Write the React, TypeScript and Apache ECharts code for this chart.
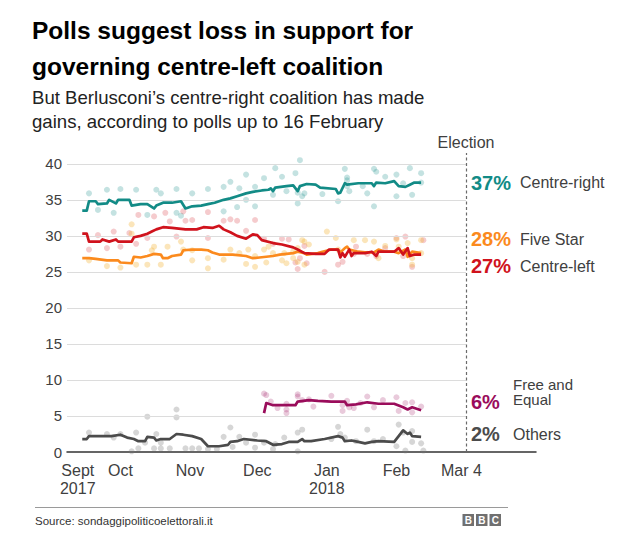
import { useEffect, useRef } from 'react';
import * as echarts from 'echarts';

const FONT = '"Liberation Sans", Arial, Helvetica, sans-serif';

// ---- axis / tick data ----
const gridValues = [5, 10, 15, 20, 25, 30, 35, 40];
const monthTickDays = [11, 30, 61, 91, 122, 153, 182];
const monthTickLabels = ['Sept\n2017', 'Oct', 'Nov', 'Dec', 'Jan\n2018', 'Feb', 'Mar 4'];
const electionDay = 184; // days since 1 Sept 2017
const firstDay = 6.2;
const lastDay = 215.2;

// ---- rolling averages (days since 1 Sept 2017) ----
const crDays = [13, 15, 16, 19, 20, 24, 25, 28, 29, 34, 35, 39, 42, 45, 46, 49, 53, 57, 59, 62, 66, 69, 72, 76, 79, 82, 86, 89, 93, 96, 97, 98, 99, 104, 107, 109, 110, 113, 117, 119, 126, 127, 128, 130, 131, 136, 142, 143, 144, 148, 152, 154, 157, 159, 161, 164];
const crValues = [33.5, 33.5, 34.8, 34.8, 34.4, 34.5, 35.0, 34.5, 35.0, 35.0, 34.2, 34.4, 34.4, 33.8, 34.2, 34.6, 34.6, 34.8, 33.8, 34.1, 34.2, 34.4, 34.6, 35.0, 35.2, 35.5, 35.9, 36.1, 36.3, 36.4, 36.6, 36.2, 36.7, 36.9, 37.0, 36.2, 36.9, 37.2, 37.1, 36.7, 36.5, 35.9, 36.0, 37.3, 37.1, 37.3, 37.3, 36.9, 37.4, 37.3, 37.6, 36.9, 36.8, 37.1, 37.4, 37.4];

const clDays = [13, 15, 16, 21, 22, 25, 28, 29, 35, 36, 39, 42, 44, 46, 49, 53, 59, 64, 67, 71, 74, 76, 79, 82, 86, 89, 91, 93, 98, 102, 107, 109, 112, 117, 121, 123, 127, 128, 129, 130, 131, 132, 133, 134, 139, 142, 144, 145, 152, 154, 156, 158, 159, 161, 164];
const clValues = [30.3, 30.3, 29.2, 29.2, 29.5, 29.2, 29.5, 29.2, 29.2, 29.8, 30.0, 30.3, 30.6, 30.9, 31.2, 31.1, 30.9, 30.9, 31.2, 31.1, 31.4, 30.9, 30.5, 30.0, 29.6, 30.2, 30.1, 29.4, 29.0, 28.8, 28.4, 28.1, 27.6, 27.5, 27.5, 28.1, 28.1, 27.0, 27.6, 27.1, 27.6, 28.1, 27.2, 27.6, 27.6, 27.8, 27.2, 27.8, 27.8, 28.3, 27.4, 28.3, 27.2, 27.4, 27.4];

const fsDays = [13, 16, 19, 24, 29, 30, 35, 36, 39, 42, 45, 48, 49, 51, 53, 57, 58, 62, 66, 69, 71, 74, 80, 86, 89, 92, 95, 98, 101, 104, 107, 109, 112, 113, 118, 120, 124, 127, 128, 130, 131, 132, 136, 139, 143, 145, 148, 152, 154, 157, 158, 160, 164];
const fsValues = [26.9, 26.9, 26.8, 26.6, 26.6, 26.3, 26.2, 27.1, 27.0, 27.2, 27.5, 27.4, 26.9, 26.9, 27.2, 27.4, 28.0, 28.1, 28.1, 28.0, 27.7, 27.4, 27.4, 27.2, 26.9, 27.0, 27.1, 27.2, 27.4, 27.5, 27.6, 27.8, 27.6, 27.4, 27.6, 27.8, 28.1, 28.1, 27.7, 28.3, 28.5, 28.1, 27.8, 27.7, 27.7, 28.1, 27.8, 27.8, 27.6, 28.1, 27.1, 27.8, 27.6];

const feDays = [94, 95, 98, 108, 109, 114, 118, 124, 130, 131, 135, 140, 145, 152, 156, 158, 160, 163, 164];
const feValues = [5.4, 6.8, 6.5, 6.5, 7.0, 7.2, 7.1, 7.0, 7.0, 6.5, 6.6, 6.9, 6.7, 6.7, 6.2, 5.9, 6.2, 5.9, 5.8];

const otDays = [13, 15, 16, 26, 30, 33, 36, 38, 41, 42, 45, 46, 48, 52, 55, 58, 62, 66, 69, 74, 78, 79, 82, 85, 91, 95, 98, 102, 105, 109, 111, 112, 115, 121, 127, 129, 130, 133, 136, 139, 142, 145, 152, 154, 156, 158, 159, 160, 164];
const otValues = [1.8, 1.8, 2.2, 2.2, 2.4, 2.0, 1.8, 1.5, 1.5, 2.1, 2.0, 1.6, 1.8, 1.8, 2.5, 2.4, 2.2, 1.8, 0.8, 0.8, 1.0, 1.4, 1.5, 1.8, 1.6, 1.5, 1.0, 1.1, 1.4, 1.4, 1.8, 1.5, 1.5, 1.8, 2.2, 2.0, 1.5, 1.6, 1.4, 1.2, 1.4, 1.5, 1.4, 2.2, 3.0, 2.5, 2.7, 2.2, 2.1];

// ---- individual polls [day, value] ----
const crPolls = [[16, 35.9], [20, 33.6], [24, 36.4], [27, 33.2], [30, 36.5], [37, 36.4], [42, 32.9], [46, 36.4], [48, 35.9], [55, 36.5], [55, 33.2], [57, 32.8], [62, 35.9], [69, 36.5], [76, 36.8], [76, 33.4], [79, 37.5], [82, 34.0], [83, 36.6], [86, 38.5], [86, 35.0], [90, 34.1], [90, 36.8], [94, 38.0], [98, 35.7], [99, 39.4], [102, 38.2], [104, 36.2], [108, 38.7], [109, 36.0], [110, 40.5], [109, 34.5], [111, 35.5], [112, 35.9], [120, 35.8], [127, 34.8], [130, 39.3], [131, 38.1], [131, 37.7], [131, 36.9], [132, 36.2], [138, 36.9], [140, 35.9], [143, 34.1], [143, 39.3], [144, 38.9], [148, 38.2], [153, 38.5], [153, 35.5], [156, 37.3], [159, 39.4], [160, 35.7], [164, 38.7], [164, 37.4]];
const clPolls = [[16, 28.1], [20, 30.1], [24, 28.3], [27, 30.6], [30, 28.5], [34, 30.4], [37, 28.9], [38, 32.9], [42, 29.7], [45, 32.7], [50, 33.2], [52, 32.0], [55, 29.9], [58, 33.4], [59, 32.1], [62, 32.2], [69, 33.3], [69, 29.7], [76, 32.1], [79, 32.3], [82, 32.1], [86, 30.7], [90, 32.2], [94, 29.6], [98, 28.9], [102, 29.6], [105, 29.5], [108, 26.3], [109, 25.4], [110, 26.9], [112, 28.6], [113, 26.2], [121, 25.0], [127, 26.0], [129, 26.4], [134, 27.5], [135, 28.5], [140, 27.5], [144, 27.2], [148, 28.3], [153, 29.7], [156, 27.2], [157, 29.9], [160, 25.7], [165, 29.4]];
const fsPolls = [[16, 26.6], [24, 25.8], [30, 25.6], [35, 31.6], [35, 30.3], [37, 26.0], [42, 26.0], [44, 28.0], [45, 28.5], [48, 26.0], [51, 28.5], [57, 29.2], [58, 28.1], [62, 26.6], [62, 28.0], [69, 25.5], [69, 26.9], [76, 26.7], [79, 28.1], [83, 27.6], [86, 26.1], [87, 28.1], [90, 25.7], [90, 27.2], [94, 28.1], [95, 26.3], [96, 28.5], [98, 27.6], [102, 26.6], [103, 27.6], [104, 26.2], [107, 26.9], [107, 27.8], [109, 28.3], [109, 26.4], [111, 29.4], [112, 29.2], [112, 26.0], [114, 28.8], [122, 30.6], [126, 29.7], [127, 28.1], [134, 29.4], [139, 29.4], [143, 29.2], [145, 26.9], [148, 28.6], [153, 29.5], [154, 28.5], [158, 29.0], [160, 26.9], [160, 26.0], [164, 29.4], [164, 27.6]];
const fePolls = [[94, 8.1], [95, 7.9], [97, 7.0], [100, 6.1], [104, 6.7], [104, 5.9], [104, 5.4], [109, 8.0], [109, 7.7], [111, 7.2], [114, 7.3], [116, 6.3], [124, 7.8], [129, 5.7], [129, 6.5], [131, 7.1], [132, 6.2], [134, 6.1], [137, 6.8], [140, 7.7], [143, 6.2], [147, 7.2], [153, 7.6], [154, 5.7], [157, 6.8], [160, 6.9], [160, 5.5], [164, 6.3]];
const otPolls = [[16, 2.7], [24, 2.5], [27, 2.0], [30, 2.5], [35, 0.1], [37, 2.7], [38, 0.5], [41, 1.3], [42, 4.9], [45, 0.5], [46, 2.5], [48, 0.5], [48, 1.3], [52, 0.5], [55, 5.9], [55, 4.8], [59, 0.5], [62, 0.5], [65, 0.5], [69, 0.4], [73, 0.4], [76, 2.1], [79, 3.4], [80, 0.7], [83, 2.1], [86, 1.3], [90, 2.4], [90, 0.6], [94, 1.3], [98, 0.4], [99, 1.1], [103, 2.0], [109, 2.7], [109, 0.1], [111, 3.1], [124, 1.8], [127, 3.5], [128, 2.5], [130, 2.0], [135, 1.5], [140, 3.1], [143, 1.5], [147, 1.8], [153, 0.8], [154, 3.8], [156, 2.7], [157, 0.2], [160, 1.4], [160, 2.9], [164, 1.2], [165, 0.2]];

// ---- end labels ----
const partyNames = ['Centre-right', 'Five Star', 'Centre-left', 'Free and\nEqual', 'Others'];
const partyShares = ['37%', '28%', '27%', '6%', '2%'];

const TEAL = '#128b86';
const ORANGE = '#fb8a1d';
const RED = '#d0121c';
const PURPLE = '#9a0c5b';
const GREY = '#4b4b4b';
const partyColors = [TEAL, ORANGE, RED, PURPLE, GREY];

const zip = (d: number[], v: number[]) => d.map((x, i) => [x, v[i]]);

export default function App() {
  const ref = useRef<HTMLDivElement>(null);
  useEffect(() => {
    if (!ref.current) return;
    const chart = echarts.init(ref.current, null, { renderer: 'svg' });

    const lineSeries = (name: string, data: number[][], color: string) => ({
      type: 'line', name, data, symbol: 'none', z: 5, clip: false,
      lineStyle: { color, width: 2.7, join: 'round' }, silent: true,
    });
    const dotSeries = (name: string, data: number[][], color: string, op: number) => ({
      type: 'scatter', name: name + ' polls', data, symbolSize: 6, z: 3, clip: false,
      itemStyle: { color, opacity: op }, silent: true,
    });

    const labelY = [182.5, 239, 266, 402, 434];
    const txt = (x: number, y: number, text: string, font: string, fill: string) => ({
      type: 'text', x, y,
      style: { text, font, fill, verticalAlign: 'middle', textVerticalAlign: 'middle' },
    });
    const graphic: any[] = [
      txt(32, 30.4, 'Polls suggest loss in support for', `bold 24.5px ${FONT}`, '#000'),
      txt(32, 66.4, 'governing centre-left coalition', `bold 24.5px ${FONT}`, '#000'),
      txt(32, 97.5, 'But Berlusconi\u2019s centre-right coalition has made', `18.6px ${FONT}`, '#222'),
      txt(32, 121.5, 'gains, according to polls up to 16 February', `18.6px ${FONT}`, '#222'),
      { type: 'line', shape: { x1: 35, y1: 507.5, x2: 508, y2: 507.5 }, style: { stroke: '#9a9a9a', lineWidth: 1.2 } },
      txt(35, 521, 'Source: sondaggipoliticoelettorali.it', `11.5px ${FONT}`, '#333'),
    ];
    ['B', 'B', 'C'].forEach((ch, i) => {
      const bx = 462.5 + i * 13.5;
      graphic.push({ type: 'rect', shape: { x: bx, y: 514, width: 11.5, height: 12 }, style: { fill: '#707070' } });
      graphic.push({ type: 'text', x: bx + 5.75, y: 520.3, style: { text: ch, font: `bold 10px ${FONT}`, fill: '#fff', align: 'center', textAlign: 'center', verticalAlign: 'middle', textVerticalAlign: 'middle' } });
    });
    partyNames.forEach((nm, i) => {
      graphic.push(txt(471, labelY[i], partyShares[i], `bold 20px ${FONT}`, partyColors[i]));
      const lines = nm.split('\n');
      if (lines.length > 1) {
        lines.forEach((ln, j) => graphic.push(txt(513, 384.2 + j * 15.6, ln, `15px ${FONT}`, '#404040')));
      } else {
        graphic.push(txt(i >= 3 ? 513 : 520, labelY[i], nm, `16px ${FONT}`, '#404040'));
      }
    });

    const option: any = {
      animation: false,
      textStyle: { fontFamily: FONT },
      grid: { left: 67, right: 88, top: 153, bottom: 99, containLabel: false },
      xAxis: {
        type: 'value', min: firstDay, max: lastDay,
        splitLine: { show: false },
        axisTick: { show: false },
        axisLine: { show: true, lineStyle: { color: '#333', width: 1.5 } },
        axisLabel: {
          customValues: monthTickDays,
          fontSize: 16, color: '#404040', margin: 9, lineHeight: 18,
          formatter: (v: number) => {
            const i = monthTickDays.findIndex((d) => Math.abs(d - v) < 0.01);
            return i >= 0 ? monthTickLabels[i] : '';
          },
        },
      },
      yAxis: {
        type: 'value', min: 0, max: 41.5, interval: 5,
        splitLine: { show: false },
        axisLine: { show: false }, axisTick: { show: false },
        axisLabel: {
          fontSize: 15, color: '#404040', margin: 5,
          formatter: (v: number) => (v % 5 === 0 && v <= 40 ? String(v) : ''),
        },
      },
      graphic,
      series: [
        {
          type: 'line', name: 'grid', data: [], z: 1, silent: true,
          markLine: {
            silent: true, symbol: 'none', animation: false,
            data: [
              ...gridValues.map((v) => [
                { coord: [firstDay, v], lineStyle: { color: '#dcdcdc', width: 1.2, type: 'solid' }, label: { show: false } },
                { coord: [electionDay, v] },
              ]),
              {
                xAxis: electionDay,
                lineStyle: { color: '#6a6a6a', width: 1.2, type: [3, 2.5] },
                label: { show: true, position: 'end', formatter: 'Election', fontSize: 16, color: '#404040', distance: 3, fontFamily: FONT },
              },
            ],
          },
        },
        dotSeries('Centre-right', crPolls, TEAL, 0.25),
        dotSeries('Centre-left', clPolls, RED, 0.22),
        dotSeries('Five Star', fsPolls, '#f3b43a', 0.35),
        dotSeries('Free and Equal', fePolls, PURPLE, 0.22),
        dotSeries('Others', otPolls, '#777', 0.3),
        lineSeries('Others', zip(otDays, otValues), GREY),
        lineSeries('Free and Equal', zip(feDays, feValues), PURPLE),
        lineSeries('Five Star', zip(fsDays, fsValues), ORANGE),
        lineSeries('Centre-left', zip(clDays, clValues), RED),
        lineSeries('Centre-right', zip(crDays, crValues), TEAL),
      ],
    };
    chart.setOption(option);
    return () => chart.dispose();
  }, []);
  return <div ref={ref} style={{ position: 'fixed', left: 0, top: 0, width: 624, height: 551, background: '#fff' }} />;
}
